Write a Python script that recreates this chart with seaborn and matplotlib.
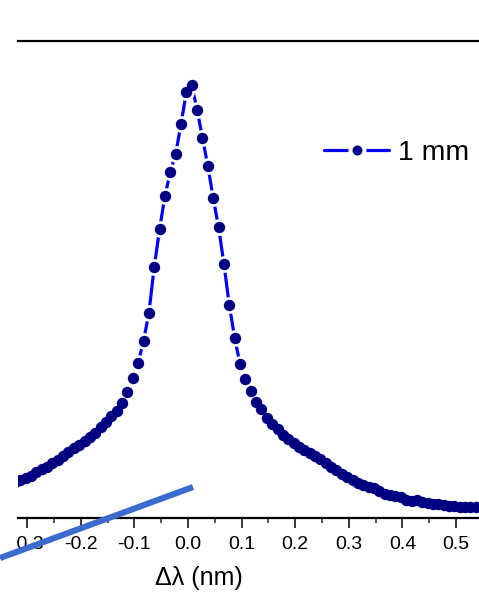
import numpy as np
import pandas as pd
import matplotlib
matplotlib.use("Agg")
import matplotlib.pyplot as plt
from matplotlib.lines import Line2D
from matplotlib.patches import Rectangle
from matplotlib.legend_handler import HandlerTuple
import seaborn as sns

sns.set_theme(style="white")
plt.rcParams["font.family"] = ["Liberation Sans", "DejaVu Sans"]

# Spectral detuning grid (nm), 0.01 nm step
delta_lambda = np.round(-0.323 + 0.01 * np.arange(89), 3)

# Normalised transmitted intensity, 1 mm sample
intensity = [
    0.083, 0.088, 0.092, 0.097, 0.106, 0.113, 0.118, 0.127, 0.134, 0.143,
    0.152, 0.162, 0.169, 0.178, 0.187, 0.196, 0.210, 0.222, 0.236, 0.247,
    0.266, 0.291, 0.323, 0.358, 0.409, 0.473, 0.580, 0.667, 0.744, 0.799,
    0.841, 0.910, 0.984, 1.000, 0.942, 0.878, 0.813, 0.739, 0.672, 0.587,
    0.492, 0.416, 0.356, 0.321, 0.293, 0.268, 0.252, 0.231, 0.217, 0.206,
    0.192, 0.182, 0.173, 0.164, 0.157, 0.150, 0.143, 0.136, 0.127, 0.118,
    0.111, 0.102, 0.095, 0.088, 0.081, 0.076, 0.072, 0.069, 0.062, 0.055,
    0.053, 0.051, 0.048, 0.042, 0.039, 0.042, 0.037, 0.035, 0.032, 0.032,
    0.030, 0.028, 0.028, 0.025, 0.025, 0.025, 0.025, 0.025, 0.025,
]

series_label = "1 mm"
x_ticks = [-0.3, -0.2, -0.1, 0.0, 0.1, 0.2, 0.3, 0.4, 0.5]
x_tick_labels = ["-0.3", "-0.2", "-0.1", "0.0", "0.1", "0.2", "0.3", "0.4", "0.5"]

# Straight reference stroke (start, end) in data units
ref_x = [-0.3507, 0.0093]
ref_y = [-0.0924, 0.0716]

df = pd.DataFrame({"dl": delta_lambda, "I": intensity})

W, H = 479, 602
fig = plt.figure(figsize=(W / 100, H / 100), dpi=100)
ax = fig.add_axes([18 / W, 84 / H, (520.3 - 18) / W, (518 - 41) / H])

line_col = "#0000ff"
dot_col = "#000080"
dot_ms = 8.2
halo_ms = 12.0

sns.lineplot(data=df, x="dl", y="I", color=line_col, lw=2.3, ax=ax, zorder=1,
             sort=False)
sns.scatterplot(data=df, x="dl", y="I", color="white", s=halo_ms ** 2,
                linewidth=0, ax=ax, zorder=2)
sns.scatterplot(data=df, x="dl", y="I", color=dot_col, s=dot_ms ** 2,
                linewidth=0, ax=ax, zorder=3)

ax.set_xlim(-0.3172, 0.62)
ax.set_ylim(0, 1.1016)

for side in ["left", "right"]:
    ax.spines[side].set_visible(False)
for side in ["top", "bottom"]:
    ax.spines[side].set_visible(True)
    ax.spines[side].set_color("black")
    ax.spines[side].set_linewidth(1.6)

ax.set_yticks([])
ax.set_xticks(x_ticks)
ax.set_xticklabels(x_tick_labels)
ax.set_xticks(np.round(np.arange(-0.25, 0.6, 0.1), 2), minor=True)
ax.tick_params(axis="x", which="major", direction="out", length=7, width=1.1,
               pad=6, labelsize=14, colors="black", bottom=True, top=False)
ax.tick_params(axis="x", which="minor", direction="out", length=3.6, width=1.1,
               bottom=True, top=False)

ax.set_xlabel("Δλ (nm)", fontsize=18, color="black")
ax.set_ylabel("")
ax.xaxis.set_label_coords((199 - 18) / (520.3 - 18), -(578 - 518) / (518 - 41))
ax.xaxis.label.set_va("center")

# Legend: line with a gap around the symbol
h_line = Line2D([], [], color=line_col, lw=2.3)
h_halo = Line2D([], [], color="white", marker="o", ms=halo_ms + 1, lw=0, mew=0)
h_dot = Line2D([], [], color=dot_col, marker="o", ms=dot_ms - 1, lw=0, mew=0)
fig.legend([(h_line, h_halo, h_dot)], [series_label],
           handler_map={tuple: HandlerTuple(ndivide=1, pad=0)},
           loc="center left", bbox_to_anchor=(324 / W, 1 - 153 / H),
           frameon=False, fontsize=20.5, handlelength=2.3, handletextpad=0.3,
           borderpad=0, borderaxespad=0, labelcolor="black")

# mask the left page margin
fig.add_artist(Rectangle((0, 1 - 549 / H), 17 / W, 16 / H,
                         transform=fig.transFigure, facecolor="white",
                         edgecolor="none", zorder=5))

ref = Line2D(ref_x, ref_y, color="#3b6bcf", lw=4.4, solid_capstyle="butt",
             transform=ax.transData, zorder=6)
fig.add_artist(ref)

fig.savefig("out.png", dpi=100)
